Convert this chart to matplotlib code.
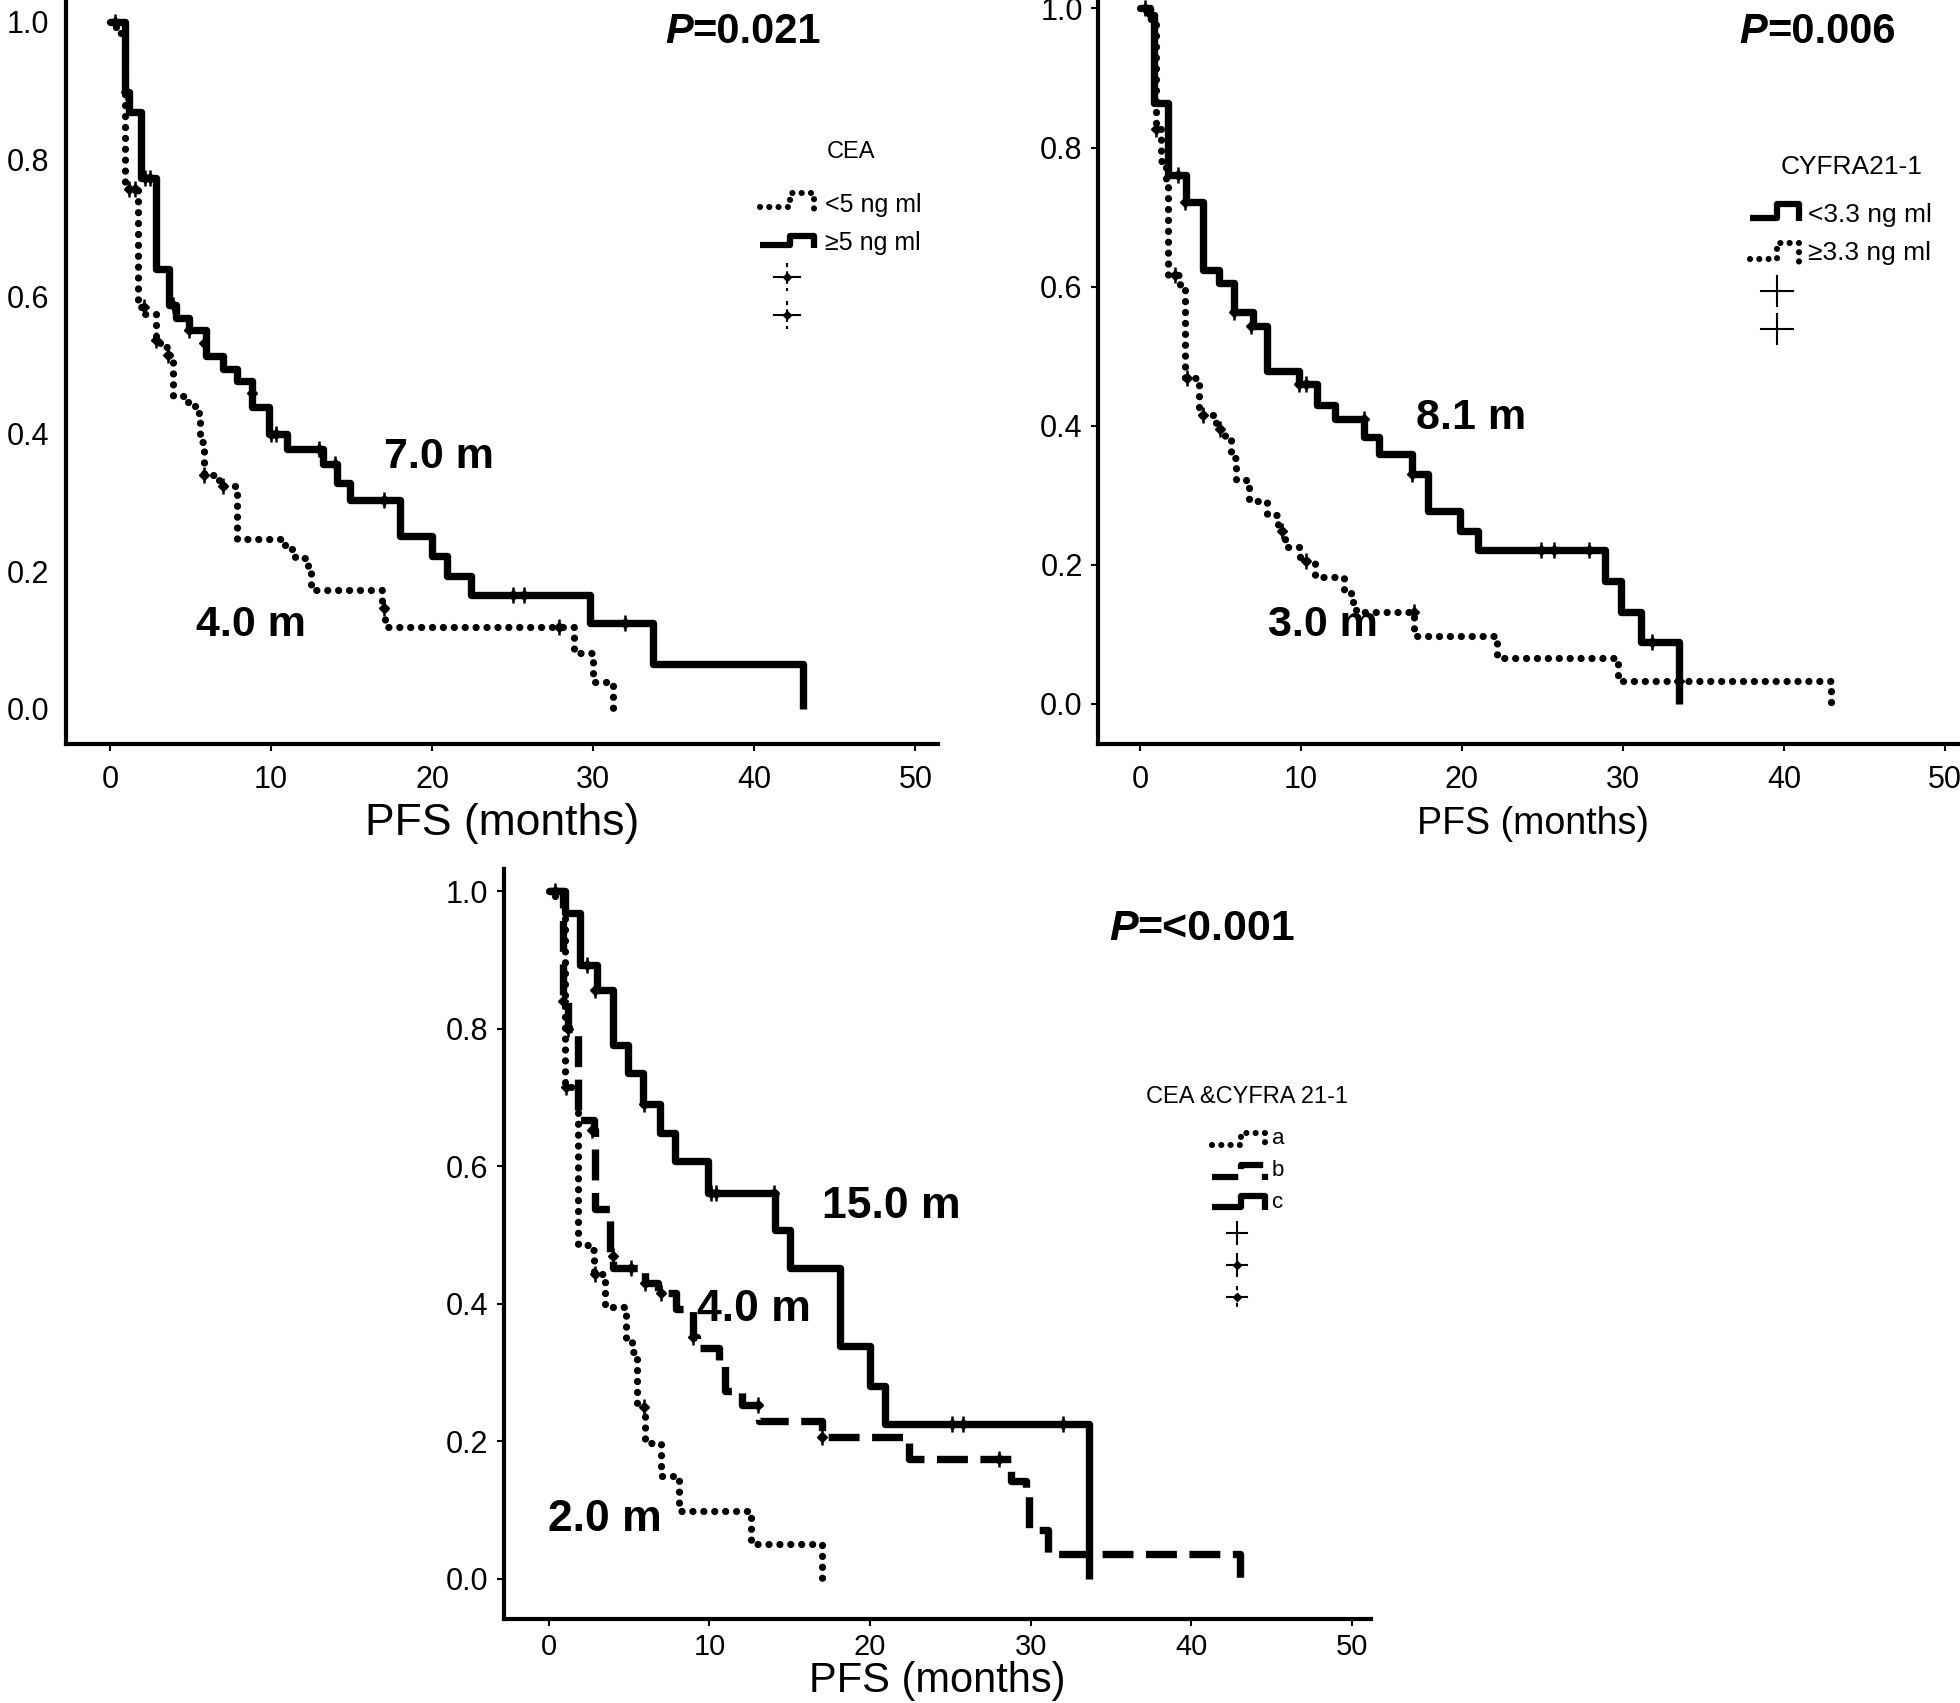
import matplotlib
matplotlib.use("Agg")
import matplotlib.pyplot as plt
import matplotlib.font_manager as fm

names = {f.name for f in fm.fontManager.ttflist}
NARROW = 'Liberation Sans Narrow' if 'Liberation Sans Narrow' in names else 'Liberation Sans'
plt.rcParams['font.family'] = ['Liberation Sans', 'DejaVu Sans']

# ---------------- data ----------------
x_ticks = [0, 10, 20, 30, 40, 50]
y_ticks = [0.0, 0.2, 0.4, 0.6, 0.8, 1.0]
y_ticklabels = ['0.0', '0.2', '0.4', '0.6', '0.8', '1.0']

# Panel 1: CEA
cea_hi_t = [0, 0.97, 1.2, 1.95, 2.85, 3.7, 4.1, 4.9, 5.95, 7.0, 7.9, 8.85, 9.9, 11.0, 13.25, 14.1, 14.9, 18.0, 20.0, 20.9, 22.4, 29.8, 33.7, 43.0]
cea_hi_s = [1.0, 0.898, 0.868, 0.773, 0.64, 0.588, 0.569, 0.551, 0.514, 0.494, 0.477, 0.439, 0.40, 0.378, 0.357, 0.329, 0.304, 0.251, 0.222, 0.194, 0.166, 0.125, 0.065, 0.0]
cea_hi_ct = [0.3, 1.0, 2.2, 2.5, 3.9, 4.9, 5.85, 8.85, 10.0, 10.3, 13.0, 14.0, 17.0, 25.0, 25.7, 32.0]
cea_hi_cs = [1.0, 0.898, 0.773, 0.773, 0.588, 0.551, 0.533, 0.46, 0.40, 0.40, 0.378, 0.357, 0.304, 0.166, 0.166, 0.125]

cea_lo_t = [0, 0.4, 0.97, 1.75, 2.2, 2.85, 3.1, 3.6, 3.9, 4.7, 5.3, 5.6, 5.85, 6.8, 7.9, 10.9, 11.5, 12.3, 12.5, 16.9, 17.1, 28.8, 30.0, 31.2]
cea_lo_s = [1.0, 0.984, 0.757, 0.584, 0.574, 0.537, 0.526, 0.515, 0.455, 0.447, 0.43, 0.388, 0.341, 0.325, 0.247, 0.233, 0.22, 0.20, 0.173, 0.147, 0.119, 0.082, 0.039, 0.0]
cea_lo_ct = [1.17, 1.56, 2.1, 2.85, 3.6, 5.85, 7.0, 17.0, 27.9]
cea_lo_cs = [0.757, 0.757, 0.584, 0.537, 0.515, 0.341, 0.325, 0.147, 0.119]

# Panel 2: CYFRA21-1
cyf_lo_t = [0, 0.6, 0.9, 1.75, 2.85, 3.9, 4.9, 5.85, 7.0, 7.9, 9.9, 11.0, 12.1, 13.9, 14.85, 16.9, 17.9, 19.9, 21.0, 28.9, 29.9, 31.1, 33.5]
cyf_lo_s = [1.0, 0.99, 0.864, 0.76, 0.721, 0.624, 0.605, 0.564, 0.543, 0.478, 0.46, 0.43, 0.409, 0.384, 0.359, 0.331, 0.277, 0.248, 0.221, 0.176, 0.132, 0.089, 0.0]
cyf_lo_ct = [0.3, 2.35, 2.8, 5.85, 6.9, 9.9, 10.3, 13.9, 16.9, 24.9, 25.7, 27.9, 31.8]
cyf_lo_cs = [1.0, 0.76, 0.721, 0.564, 0.543, 0.46, 0.46, 0.409, 0.331, 0.221, 0.221, 0.221, 0.089]

cyf_hi_t = [0, 0.3, 0.6, 1.0, 1.3, 1.6, 1.75, 2.5, 2.8, 3.7, 4.7, 5.3, 5.65, 5.95, 6.8, 7.9, 8.6, 9.0, 9.95, 10.9, 12.7, 13.1, 13.4, 17.0, 22.2, 29.7, 42.9]
cyf_hi_s = [1.0, 0.995, 0.985, 0.826, 0.78, 0.748, 0.616, 0.60, 0.469, 0.415, 0.395, 0.38, 0.353, 0.322, 0.291, 0.271, 0.248, 0.225, 0.205, 0.182, 0.163, 0.147, 0.132, 0.098, 0.066, 0.033, 0.0]
cyf_hi_ct = [1.0, 2.2, 2.9, 3.9, 5.0, 8.8, 10.3, 17.0, 33.5]
cyf_hi_cs = [0.826, 0.616, 0.469, 0.415, 0.395, 0.248, 0.205, 0.132, 0.033]

# Panel 3: CEA & CYFRA 21-1
grp_a_t = [0, 0.4, 1.0, 1.85, 2.6, 2.8, 3.5, 4.8, 5.2, 5.5, 6.0, 7.0, 8.1, 12.6, 17.0]
grp_a_s = [1.0, 0.99, 0.715, 0.486, 0.478, 0.443, 0.395, 0.348, 0.33, 0.25, 0.198, 0.15, 0.099, 0.051, 0.0]
grp_a_ct = [1.1, 2.9, 5.9]
grp_a_cs = [0.715, 0.443, 0.25]

grp_b_t = [0, 0.9, 1.2, 1.8, 2.8, 2.9, 3.8, 4.0, 6.0, 6.8, 7.9, 9.0, 9.2, 10.6, 11.0, 12.0, 13.1, 17.0, 22.4, 28.8, 29.7, 29.9, 31.1, 43.0]
grp_b_s = [1.0, 0.84, 0.80, 0.667, 0.652, 0.538, 0.47, 0.452, 0.43, 0.415, 0.392, 0.352, 0.336, 0.312, 0.273, 0.253, 0.229, 0.206, 0.175, 0.142, 0.122, 0.071, 0.036, 0.0]
grp_b_ct = [0.9, 1.2, 2.7, 4.0, 5.1, 6.0, 7.0, 9.0, 13.0, 17.0, 28.0]
grp_b_cs = [0.84, 0.80, 0.652, 0.47, 0.452, 0.43, 0.415, 0.352, 0.253, 0.206, 0.175]

grp_c_t = [0, 1.0, 1.94, 2.98, 4.0, 4.95, 5.88, 6.92, 7.85, 9.92, 14.07, 15.0, 18.1, 20.0, 20.9, 33.6]
grp_c_s = [1.0, 0.968, 0.892, 0.856, 0.776, 0.735, 0.691, 0.648, 0.607, 0.561, 0.507, 0.452, 0.338, 0.28, 0.225, 0.0]
grp_c_ct = [0.4, 2.4, 2.9, 5.9, 10.1, 10.4, 14.0, 25.1, 25.8, 32.0]
grp_c_cs = [1.0, 0.892, 0.856, 0.691, 0.561, 0.561, 0.561, 0.225, 0.225, 0.225]

# ---------------- figure ----------------
W, H = 1960, 1703
fig = plt.figure(figsize=(W / 100, H / 100), dpi=100)

STY = {
    'solid': dict(ls='-', lw=5.3, solid_capstyle='butt'),
    'dotted': dict(ls=(0, (0.01, 1.5)), lw=5.2, dash_capstyle='round'),
    'dashed': dict(ls=(0, (4.2, 1.7)), lw=5.3, dash_capstyle='butt'),
}


def km(ax, t, s, ct, cs, style):
    ax.step(t, s, where='post', color='k', **STY[style])
    ax.plot(ct, cs, ls='none', marker='|', ms=12, mew=1.8, color='k')
    ax.plot(ct, cs, ls='none', marker='D', ms=5, color='k')


def setup(ax, xlim, ylim, ylen, ypad, xpad=10, xsize=22):
    ax.set_xlim(*xlim)
    ax.set_ylim(*ylim)
    for sp in ('top', 'right'):
        ax.spines[sp].set_visible(False)
    for sp in ('left', 'bottom'):
        ax.spines[sp].set_linewidth(3)
    ax.set_xticks(x_ticks)
    ax.set_xticklabels([str(v) for v in x_ticks], fontfamily=NARROW)
    ax.set_yticks(y_ticks)
    ax.set_yticklabels(y_ticklabels, fontfamily=NARROW)
    ax.tick_params(axis='x', direction='out', length=5, width=1.5, pad=xpad, labelsize=xsize)
    ax.tick_params(axis='y', direction='out', length=ylen, width=1.5, pad=ypad, labelsize=22)
    ax.patch.set_visible(False)


def ptext(ax, xc, y, rest, size, width_months):
    # italic bold "P" followed by bold remainder, centred at xc
    left = xc - width_months / 2.0
    split = left + width_months * 0.18
    ax.text(split, y, 'P', fontsize=size, fontweight='bold', fontstyle='italic', ha='right', va='center')
    ax.text(split, y, rest, fontsize=size, fontweight='bold', ha='left', va='center')


# Panel 1
ax1 = fig.add_axes([0.0336, 0.5631, 0.4450, 0.4384])
setup(ax1, (-2.73, 51.4), (-0.051, 1.035), 0, 12)
km(ax1, cea_lo_t, cea_lo_s, cea_lo_ct, cea_lo_cs, 'dotted')
km(ax1, cea_hi_t, cea_hi_s, cea_hi_ct, cea_hi_cs, 'solid')
ax1.set_xlabel('PFS (months)', fontsize=32, labelpad=6)
ptext(ax1, 39.3, 0.985, '=0.021', 30, 9.8)
ax1.text(20.45, 0.366, '7.0 m', fontsize=31, fontweight='bold', ha='center', va='center')
ax1.text(8.77, 0.1225, '4.0 m', fontsize=31, fontweight='bold', ha='center', va='center')

# Panel 2
ax2 = fig.add_axes([0.5602, 0.5631, 0.4436, 0.4401])
setup(ax2, (-2.6, 51.4), (-0.058, 1.02), 5, 6)
km(ax2, cyf_hi_t, cyf_hi_s, cyf_hi_ct, cyf_hi_cs, 'dotted')
km(ax2, cyf_lo_t, cyf_lo_s, cyf_lo_ct, cyf_lo_cs, 'solid')
ax2.set_xlabel('PFS (months)', fontsize=27, labelpad=8)
ptext(ax2, 42.1, 0.966, '=0.006', 30, 9.8)
ax2.text(20.6, 0.411, '8.1 m', fontsize=31, fontweight='bold', ha='center', va='center')
ax2.text(11.4, 0.113, '3.0 m', fontsize=31, fontweight='bold', ha='center', va='center')

# Panel 3
ax3 = fig.add_axes([0.2571, 0.0491, 0.4426, 0.4406])
setup(ax3, (-2.79, 51.2), (-0.0588, 1.032), 5, 6.5, xpad=5, xsize=21)
km(ax3, grp_a_t, grp_a_s, grp_a_ct, grp_a_cs, 'dotted')
km(ax3, grp_b_t, grp_b_s, grp_b_ct, grp_b_cs, 'dashed')
km(ax3, grp_c_t, grp_c_s, grp_c_ct, grp_c_cs, 'solid')
ax3.set_xlabel('PFS (months)', fontsize=30, labelpad=0)
ptext(ax3, 40.3, 0.945, '=<0.001', 31, 11.4)
ax3.text(21.3, 0.542, '15.0 m', fontsize=32, fontweight='bold', ha='center', va='center')
ax3.text(12.8, 0.392, '4.0 m', fontsize=32, fontweight='bold', ha='center', va='center')
ax3.text(3.5, 0.0858, '2.0 m', fontsize=32, fontweight='bold', ha='center', va='center')

# ---------------- legends (pixel overlay) ----------------
ov = fig.add_axes([0, 0, 1, 1])
ov.set_xlim(0, W)
ov.set_ylim(H, 0)
ov.axis('off')
ov.patch.set_visible(False)


def sample(x0, x1, low, high, style):
    xm = x0 + (x1 - x0) * 0.55
    st = dict(STY[style])
    st['lw'] = st['lw'] * 0.85
    ov.plot([x0, xm, xm, x1, x1], [low, low, high, high, low + 3], color='k', **st)


def cross(x, y, hw, hh, diamond, dashed):
    ls = (0, (2, 2)) if dashed else '-'
    ov.plot([x - hw, x + hw], [y, y], color='k', lw=1.5)
    ov.plot([x, x], [y - hh, y + hh], color='k', lw=1.5, ls=ls)
    if diamond:
        ov.plot([x], [y], marker='D', ms=4, color='k')


# Panel 1 legend
ov.text(851, 152, 'CEA', fontsize=17, ha='center', va='center')
sample(760, 814, 207, 193, 'dotted')
ov.text(825, 205, '<5 ng ml', fontsize=18, ha='left', va='center')
sample(760, 814, 245, 236, 'solid')
ov.text(825, 243, '\u22655 ng ml', fontsize=18, ha='left', va='center')
cross(787, 277, 13, 14, True, True)
cross(787, 315, 13, 14, True, True)

# Panel 2 legend
ov.text(1852, 167, 'CYFRA21-1', fontsize=19, ha='center', va='center')
sample(1750, 1799, 218, 204, 'solid')
ov.text(1808, 215, '<3.3 ng ml', fontsize=19, ha='left', va='center')
sample(1750, 1799, 259, 243, 'dotted')
ov.text(1808, 253, '\u22653.3 ng ml', fontsize=19, ha='left', va='center')
cross(1777, 291, 16, 15, False, False)
cross(1777, 329, 16, 15, False, False)

# Panel 3 legend
ov.text(1247, 1097, 'CEA &CYFRA 21-1', fontsize=17, ha='center', va='center')
sample(1212, 1265, 1145, 1133, 'dotted')
ov.text(1272, 1139, 'a', fontsize=16, ha='left', va='center')
sample(1212, 1265, 1177, 1165, 'dashed')
ov.text(1272, 1171, 'b', fontsize=16, ha='left', va='center')
sample(1212, 1265, 1207, 1196, 'solid')
ov.text(1272, 1203, 'c', fontsize=16, ha='left', va='center')
cross(1237, 1233, 10, 11, False, False)
cross(1237, 1265, 10, 11, True, False)
cross(1237, 1297, 10, 11, True, True)

fig.savefig('out.png', dpi=100)
